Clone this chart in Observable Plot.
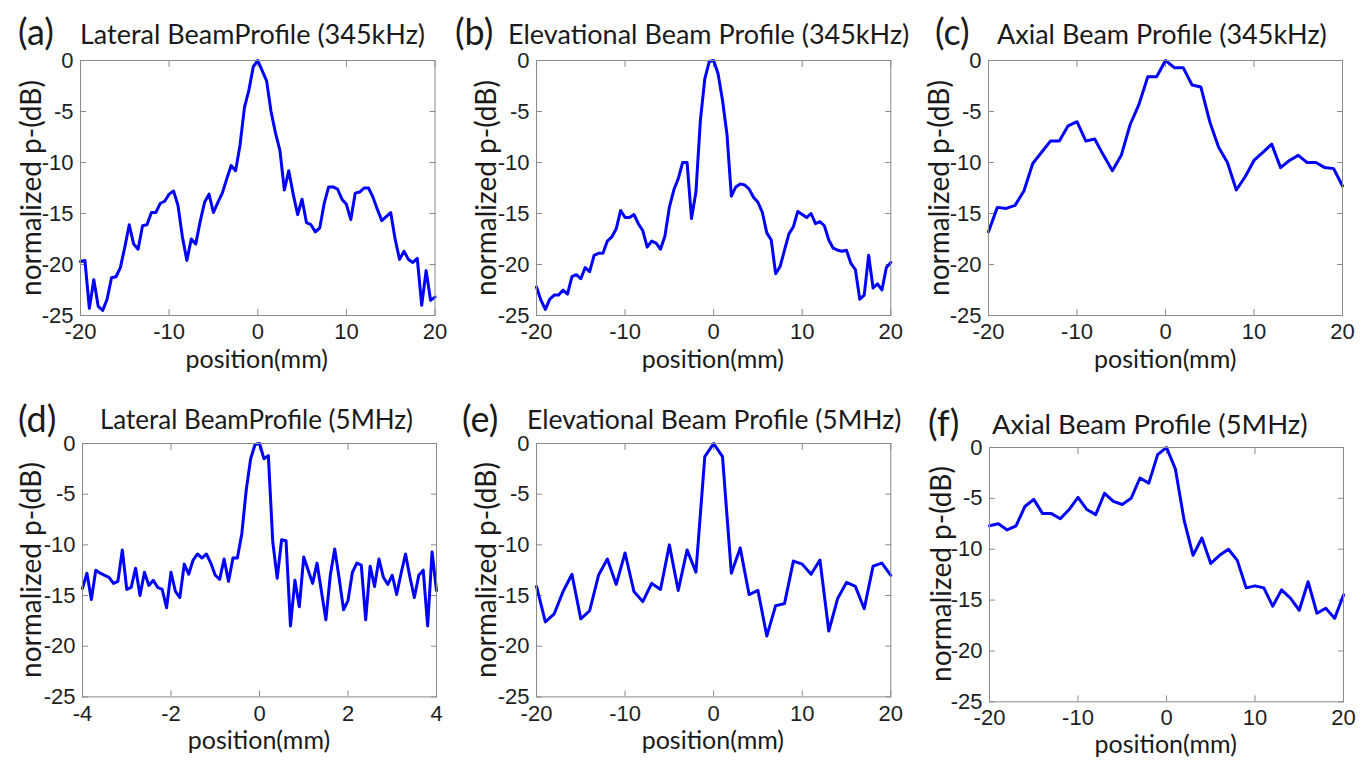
<!DOCTYPE html>
<html><head><meta charset="utf-8">
<script src="https://cdn.jsdelivr.net/npm/d3@7"></script>
<script src="https://cdn.jsdelivr.net/npm/@observablehq/plot@0.6"></script>
<style>
body{margin:0;background:#fff;}
#fig{position:relative;width:1368px;height:760px;overflow:hidden;background:#fff;}
.lbl{position:absolute;white-space:nowrap;color:#1a1a1a;font-family:Lato,"Open Sans",sans-serif;line-height:1;}
.plot{position:absolute;}
</style></head><body><div id="fig"></div><script>
// ---------- data ----------
const posA = [-20,-19.5,-19,-18.5,-18,-17.5,-17,-16.5,-16,-15.5,-15,-14.5,-14,-13.5,-13,-12.5,-12,-11.5,-11,-10.5,-10,-9.5,-9,-8.5,-8,-7.5,-7,-6.5,-6,-5.5,-5,-4.5,-4,-3.5,-3,-2.5,-2,-1.5,-1,-0.5,0,0.5,1,1.5,2,2.5,3,3.5,4,4.5,5,5.5,6,6.5,7,7.5,8,8.5,9,9.5,10,10.5,11,11.5,12,12.5,13,13.5,14,14.5,15,15.5,16,16.5,17,17.5,18,18.5,19,19.5,20];
const dbA = [-19.7,-19.6,-24.3,-21.5,-24.1,-24.5,-23.4,-21.3,-21.2,-20.3,-18.3,-16.1,-18.0,-18.5,-16.2,-16.1,-14.9,-14.9,-14.0,-13.8,-13.1,-12.8,-14.2,-17.3,-19.6,-17.5,-18.0,-15.8,-13.9,-13.1,-14.9,-13.9,-13.0,-11.6,-10.3,-10.8,-8.3,-4.6,-2.9,-0.6,0,-1.0,-2.0,-5.0,-7.1,-8.8,-12.7,-10.8,-13.1,-15.1,-13.6,-15.9,-16.1,-16.8,-16.4,-14.0,-12.4,-12.4,-12.6,-13.6,-14.1,-15.6,-13.0,-12.9,-12.5,-12.5,-13.4,-14.6,-15.7,-15.3,-14.9,-17.5,-19.5,-18.7,-19.5,-19.8,-19.4,-24.0,-20.6,-23.5,-23.2];

const posB = posA;
const dbB = [-22.2,-23.5,-24.4,-23.4,-23.0,-23.0,-22.5,-22.9,-21.2,-21.0,-21.4,-20.3,-20.7,-19.1,-18.9,-18.9,-17.7,-17.3,-16.5,-14.7,-15.4,-15.4,-15.1,-16.0,-16.7,-18.3,-17.7,-17.9,-18.5,-17.2,-14.4,-12.7,-11.6,-10.0,-10.0,-15.5,-12.9,-5.9,-1.8,-0.1,0,-1.3,-3.9,-7.2,-13.3,-12.4,-12.1,-12.2,-12.6,-13.4,-13.9,-14.9,-16.9,-17.6,-20.9,-20.2,-18.6,-17.0,-16.3,-14.8,-15.1,-15.4,-15.0,-16.0,-15.8,-16.2,-17.6,-18.4,-18.6,-18.7,-18.6,-19.9,-20.5,-23.4,-23.0,-19.1,-22.3,-21.9,-22.5,-20.3,-19.8];

const posC = [-20,-19,-18,-17,-16,-15,-14,-13,-12,-11,-10,-9,-8,-7,-6,-5,-4,-3,-2,-1,0,1,2,3,4,5,6,7,8,9,10,11,12,13,14,15,16,17,18,19,20];
const dbC = [-16.8,-14.4,-14.5,-14.2,-12.8,-10.1,-9.0,-7.9,-7.9,-6.4,-6.0,-7.9,-7.7,-9.3,-10.8,-9.3,-6.3,-4.3,-1.6,-1.6,0,-0.7,-0.7,-2.4,-2.6,-6.0,-8.5,-10.0,-12.7,-11.4,-9.8,-9.0,-8.2,-10.5,-9.8,-9.3,-10.0,-10.0,-10.5,-10.6,-12.3];

const posD = [-4.0,-3.9,-3.8,-3.7,-3.6,-3.5,-3.4,-3.3,-3.2,-3.1,-3.0,-2.9,-2.8,-2.7,-2.6,-2.5,-2.4,-2.3,-2.2,-2.1,-2.0,-1.9,-1.8,-1.7,-1.6,-1.5,-1.4,-1.3,-1.2,-1.1,-1.0,-0.9,-0.8,-0.7,-0.6,-0.5,-0.4,-0.3,-0.2,-0.1,0,0.1,0.2,0.3,0.4,0.5,0.6,0.7,0.8,0.9,1.0,1.1,1.2,1.3,1.4,1.5,1.6,1.7,1.8,1.9,2.0,2.1,2.2,2.3,2.4,2.5,2.6,2.7,2.8,2.9,3.0,3.1,3.2,3.3,3.4,3.5,3.6,3.7,3.8,3.9,4.0];
const dbD = [-14.3,-12.8,-15.4,-12.5,-12.8,-13.0,-13.2,-13.8,-13.6,-10.5,-14.4,-14.2,-12.3,-15.0,-12.7,-14.0,-13.5,-14.2,-14.4,-16.2,-12.7,-14.6,-15.2,-11.9,-12.9,-11.5,-10.9,-11.3,-10.9,-11.8,-13.0,-13.4,-11.4,-13.6,-11.3,-11.3,-8.9,-4.6,-1.5,-0.1,0,-1.5,-1.2,-9.7,-13.3,-9.5,-9.6,-18.0,-13.5,-16.1,-11.2,-12.5,-13.8,-11.8,-14.6,-17.4,-13.0,-10.4,-13.3,-16.4,-15.5,-12.7,-11.8,-12.0,-17.4,-12.1,-14.1,-11.4,-13.2,-13.9,-13.0,-14.9,-12.8,-10.9,-13.2,-15.2,-13.0,-12.5,-18.0,-10.7,-14.5];

const posE = posC;
const dbE = [-14.1,-17.6,-16.8,-14.6,-12.9,-17.3,-16.5,-13.0,-11.4,-13.9,-10.8,-14.6,-15.6,-13.8,-14.4,-10.0,-14.5,-10.5,-12.7,-1.3,0,-1.3,-12.8,-10.3,-14.9,-14.5,-19.0,-16.0,-15.8,-11.6,-11.9,-12.9,-11.5,-18.5,-15.3,-13.7,-14.1,-16.3,-12.1,-11.8,-13.0];

const posF = posC;
const dbF = [-7.7,-7.5,-8.1,-7.7,-5.8,-5.1,-6.5,-6.5,-7.0,-6.1,-4.9,-6.1,-6.6,-4.5,-5.3,-5.6,-5.0,-3.0,-3.5,-0.7,0,-2.1,-7.2,-10.6,-8.9,-11.4,-10.6,-10.0,-11.1,-13.8,-13.6,-13.8,-15.6,-14.0,-14.8,-16.0,-13.2,-16.3,-15.8,-16.8,-14.5];

const yTicks = [0,-5,-10,-15,-20,-25];
const xTicksWide = [-20,-10,0,10,20];
const xTicksNarrow = [-4,-2,0,2,4];
const letters = ["(a)","(b)","(c)","(d)","(e)","(f)"];
const titles = ["Lateral BeamProfile (345kHz)","Elevational Beam Profile (345kHz)","Axial Beam Profile (345kHz)",
                "Lateral BeamProfile (5MHz)","Elevational Beam Profile (5MHz)","Axial Beam Profile (5MHz)"];
const yLabel = "normalized p-(dB)";
const xLabel = "position(mm)";

// ---------- layout ----------
const layout = [
  {frame:[79.5,60,434,315],   letter:[18,31],  title:[80,33],  tsize:27, ylab:30,  xlab:358},
  {frame:[535.7,60,890,315],  letter:[455,31], title:[508,33], tsize:27, ylab:485, xlab:358},
  {frame:[988.3,60,1342.3,315],letter:[935,31],title:[997,33], tsize:27, ylab:938, xlab:358},
  {frame:[82,443.3,436,696.7],letter:[18,418], title:[100,419],tsize:26, ylab:30,  xlab:739},
  {frame:[535.7,443.3,890,696.7],letter:[462,418],title:[527,419],tsize:26.5,ylab:485,xlab:739},
  {frame:[988.7,446.7,1342.7,701],letter:[928,422],title:[992,424],tsize:27.5,ylab:940,xlab:743}
];
const series = [
  {pos:posA, db:dbA, xd:[-20,20], xt:xTicksWide},
  {pos:posB, db:dbB, xd:[-20,20], xt:xTicksWide},
  {pos:posC, db:dbC, xd:[-20,20], xt:xTicksWide},
  {pos:posD, db:dbD, xd:[-4,4],   xt:xTicksNarrow},
  {pos:posE, db:dbE, xd:[-20,20], xt:xTicksWide},
  {pos:posF, db:dbF, xd:[-20,20], xt:xTicksWide}
];

const fig = document.getElementById("fig");
const gray = "#8a8a8a", ink = "#1e1e1e";
const M = {l:60, r:12, t:12, b:45};
const fmt = d => String(d);
const TICK = 22;

function addText(txt, x, y, size, opts = {}) {
  const d = document.createElement("div");
  d.className = "lbl";
  d.textContent = txt;
  d.style.fontSize = size + "px";
  d.style.left = x + "px";
  d.style.top = y + "px";
  d.style.transform = opts.transform || "translateY(-50%)";
  fig.appendChild(d);
  return d;
}

series.forEach((s, i) => {
  const L = layout[i];
  const [x0, y0, x1, y1] = L.frame;
  const fw = x1 - x0, fh = y1 - y0;
  const data = s.pos.map((x, j) => ({x, y: s.db[j]}));
  const chart = Plot.plot({
    width: fw + M.l + M.r, height: fh + M.t + M.b,
    marginLeft: M.l, marginRight: M.r, marginTop: M.t, marginBottom: M.b,
    x: {domain: s.xd}, y: {domain: [-25, 0]},
    style: {fontFamily: '"Liberation Sans", Arial, sans-serif', fontSize: TICK + "px", color: ink, background: "transparent", overflow: "visible"},
    marks: [
      Plot.axisX({anchor: "bottom", ticks: s.xt, tickSize: -6, tickPadding: 14, tickFormat: fmt, label: null, stroke: gray, fill: ink, fontSize: TICK}),
      Plot.axisX({anchor: "top", ticks: s.xt, tickSize: -6, tickFormat: () => "", label: null, stroke: gray}),
      Plot.axisY({anchor: "left", ticks: yTicks, tickSize: -6, tickPadding: 13, tickFormat: fmt, label: null, stroke: gray, fill: ink, fontSize: TICK}),
      Plot.axisY({anchor: "right", ticks: yTicks, tickSize: -6, tickFormat: () => "", label: null, stroke: gray}),
      Plot.line(data, {x: "x", y: "y", stroke: "#0000ff", strokeWidth: 3, strokeLinejoin: "round"}),
      Plot.frame({stroke: gray, strokeWidth: 1})
    ]
  });
  const wrap = document.createElement("div");
  wrap.className = "plot";
  wrap.style.left = (x0 - M.l) + "px";
  wrap.style.top = (y0 - M.t) + "px";
  wrap.appendChild(chart);
  fig.appendChild(wrap);

  addText(letters[i], L.letter[0], L.letter[1], 36);
  addText(titles[i], L.title[0], L.title[1], L.tsize);
  addText(yLabel, L.ylab, (y0 + y1) / 2, 28, {transform: "translate(-50%,-50%) rotate(-90deg)"});
  addText(xLabel, (x0 + x1) / 2, L.xlab, 25, {transform: "translate(-50%,-50%)"});
});
</script></body></html>
